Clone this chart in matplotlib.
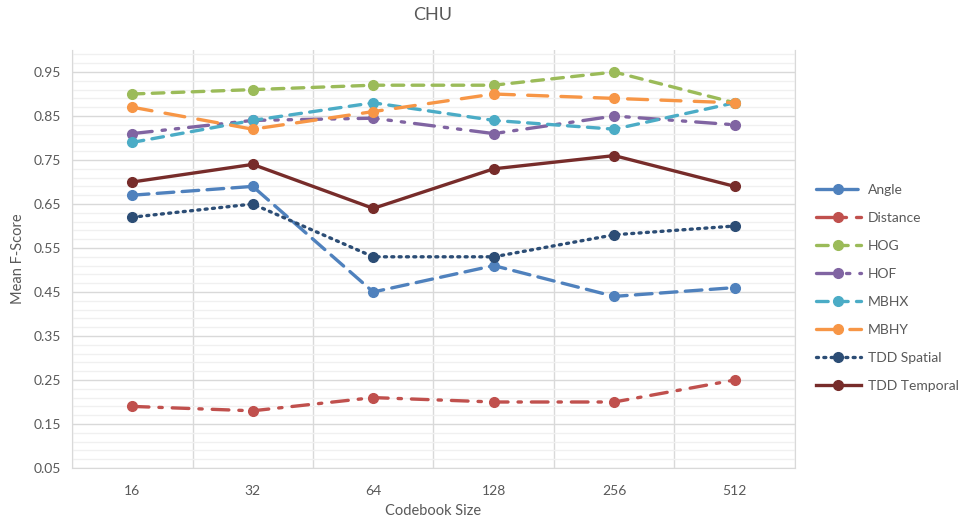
import matplotlib.pyplot as plt
import numpy as np

plt.rcParams['font.family'] = ['Lato', 'DejaVu Sans']

sizes = ['16', '32', '64', '128', '256', '512']

angle = [0.67, 0.69, 0.45, 0.51, 0.44, 0.46]
distance = [0.19, 0.18, 0.21, 0.20, 0.20, 0.25]
hog = [0.90, 0.91, 0.92, 0.92, 0.95, 0.88]
hof = [0.81, 0.84, 0.845, 0.81, 0.85, 0.83]
mbhx = [0.79, 0.84, 0.88, 0.84, 0.82, 0.88]
mbhy = [0.87, 0.82, 0.86, 0.90, 0.89, 0.88]
tdd_spatial = [0.62, 0.65, 0.53, 0.53, 0.58, 0.60]
tdd_temporal = [0.70, 0.74, 0.64, 0.73, 0.76, 0.69]

series = [
    ('Angle', angle, '#4F81BD', (0, (5, 2.5))),
    ('Distance', distance, '#C0504D', (0, (5, 3, 1, 3))),
    ('HOG', hog, '#9BBB59', (0, (3.5, 2.5))),
    ('HOF', hof, '#8064A2', (0, (6, 3, 1, 3, 1, 3))),
    ('MBHX', mbhx, '#4BACC6', (0, (3.5, 2.5))),
    ('MBHY', mbhy, '#F79646', (0, (6, 4))),
    ('TDD Spatial', tdd_spatial, '#2C4D75', (0, (0.6, 1.6))),
    ('TDD Temporal', tdd_temporal, '#772C2A', '-'),
]

grey = '#595959'

fig = plt.figure(figsize=(9.58, 5.21), dpi=100)
ax = fig.add_axes([72 / 958, 1 - 468 / 521, (795 - 72) / 958, (468 - 50) / 521])

x = np.arange(len(sizes))
for name, vals, col, ls in series:
    ax.plot(x, vals, color=col, linestyle=ls, linewidth=2.4, marker='o',
            markersize=7, label=name, dash_capstyle='round')

ax.set_xlim(-0.5, len(sizes) - 0.5)
ax.set_ylim(0.05, 1.0)
ax.set_xticks(x)
ax.set_xticklabels(sizes)
ax.set_xticks(np.arange(-0.5, len(sizes), 1), minor=True)
ax.set_yticks(np.arange(0.05, 0.96, 0.1))
ax.set_yticklabels(['%.2f' % v for v in np.arange(0.05, 0.96, 0.1)])
ax.set_yticks(np.arange(0.07, 1.0, 0.02), minor=True)

ax.grid(axis='y', which='major', color='#d9d9d9', linewidth=1)
ax.grid(axis='y', which='minor', color='#f0f0f0', linewidth=1)
ax.grid(axis='x', which='minor', color='#d9d9d9', linewidth=1)
ax.set_axisbelow(True)
ax.tick_params(which='both', length=0, colors=grey, labelsize=10)
ax.tick_params(axis='x', pad=12)
ax.tick_params(axis='y', pad=8)
for s in ax.spines.values():
    s.set_color('#d9d9d9')
ax.spines['top'].set_visible(False)

ax.set_xlabel('Codebook Size', color=grey, fontsize=10.5, labelpad=5)
ax.set_ylabel('Mean F-Score', color=grey, fontsize=10.5, labelpad=6)
fig.text(433 / 958, 1 - 15 / 521, 'CHU', ha='center', va='center', color=grey, fontsize=13)

ax.legend(loc='center left', bbox_to_anchor=(1.012, 0.43), frameon=False,
          fontsize=10, labelcolor=grey, handlelength=3.2, labelspacing=1.15,
          handletextpad=0.5)

fig.savefig('out.png', dpi=100)
